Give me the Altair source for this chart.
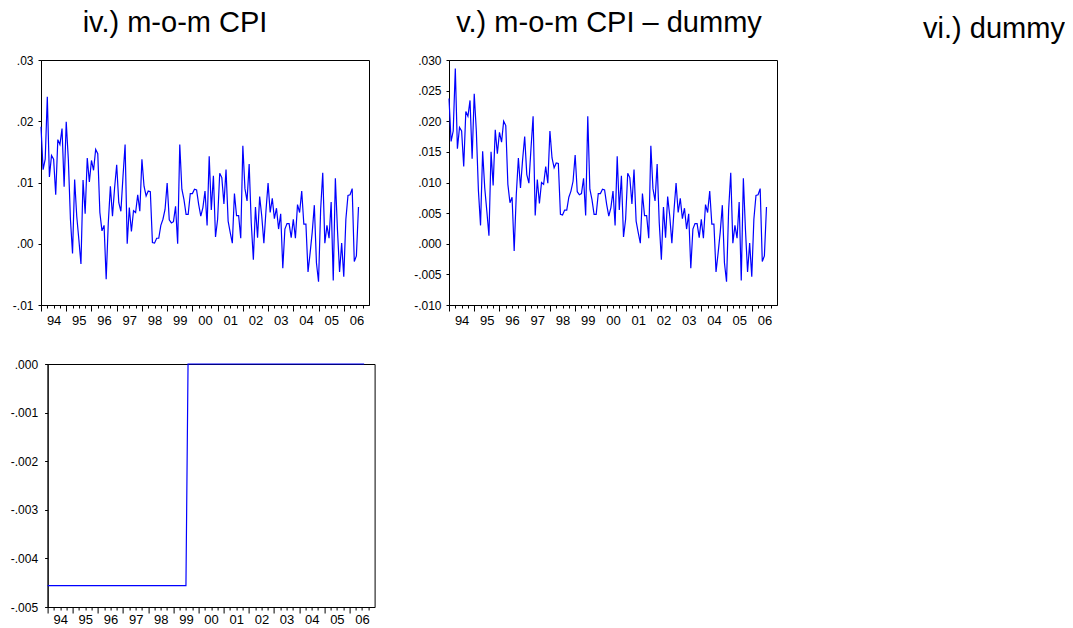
import altair as alt
import pandas as pd

# Monthly observations, 1994M01 .. 2006M08
START_YEAR = 1994

# iv.) month-on-month CPI inflation
cpi_mom = [
    0.0191, 0.0121, 0.0138, 0.0240, 0.0109, 0.0144, 0.0138, 0.0080, 0.0170, 0.0162, 0.0188, 0.0093,
    0.0199, 0.0138, 0.0040, -0.0016, 0.0105, 0.0045, 0.0007, -0.0033, 0.0104, 0.0049, 0.0140, 0.0101,
    0.0136, 0.0120, 0.0154, 0.0147, 0.0051, 0.0021, 0.0030, -0.0058, 0.0034, 0.0094, 0.0045, 0.0091,
    0.0129, 0.0067, 0.0053, 0.0110, 0.0162, 0.0000, 0.0059, 0.0020, 0.0054, 0.0051, 0.0080, 0.0053,
    0.0138, 0.0094, 0.0078, 0.0086, 0.0085, 0.0002, 0.0001, 0.0009, 0.0009, 0.0030, 0.0040, 0.0056,
    0.0099, 0.0039, 0.0034, 0.0036, 0.0061, 0.0000, 0.0162, 0.0089, 0.0072, 0.0048, 0.0048, 0.0082,
    0.0082, 0.0089, 0.0088, 0.0064, 0.0045, 0.0059, 0.0086, 0.0030, 0.0143, 0.0055, 0.0111, 0.0011,
    0.0040, 0.0115, 0.0108, 0.0065, 0.0121, 0.0037, 0.0018, 0.0001, 0.0082, 0.0046, 0.0046, 0.0009,
    0.0160, 0.0090, 0.0070, 0.0130, 0.0034, -0.0026, 0.0060, 0.0010, 0.0077, 0.0045, 0.0001, 0.0054,
    0.0099, 0.0051, 0.0074, 0.0041, 0.0058, 0.0024, 0.0049, -0.0040, 0.0024, 0.0033, 0.0033, 0.0010,
    0.0040, 0.0009, 0.0064, 0.0051, 0.0086, 0.0032, 0.0032, -0.0046, -0.0015, 0.0019, 0.0063, -0.0031,
    -0.0062, 0.0056, 0.0116, 0.0001, 0.0030, 0.0009, 0.0068, -0.0060, 0.0107, 0.0023, -0.0046, 0.0001,
    -0.0054, 0.0040, 0.0079, 0.0080, 0.0090, -0.0029, -0.0020, 0.0060,
]

# v.) month-on-month CPI net of the dummy
cpi_mom_net = [
    0.0237, 0.0167, 0.0184, 0.0286, 0.0155, 0.0190, 0.0184, 0.0126, 0.0216, 0.0208, 0.0234, 0.0139,
    0.0245, 0.0184, 0.0086, 0.0030, 0.0151, 0.0091, 0.0053, 0.0013, 0.0150, 0.0095, 0.0186, 0.0147,
    0.0182, 0.0166, 0.0200, 0.0193, 0.0097, 0.0067, 0.0076, -0.0012, 0.0080, 0.0140, 0.0091, 0.0137,
    0.0175, 0.0113, 0.0099, 0.0156, 0.0208, 0.0046, 0.0105, 0.0066, 0.0100, 0.0097, 0.0126, 0.0099,
    0.0184, 0.0140, 0.0124, 0.0132, 0.0131, 0.0048, 0.0047, 0.0055, 0.0055, 0.0076, 0.0086, 0.0102,
    0.0145, 0.0085, 0.0080, 0.0082, 0.0107, 0.0046, 0.0208, 0.0089, 0.0072, 0.0048, 0.0048, 0.0082,
    0.0082, 0.0089, 0.0088, 0.0064, 0.0045, 0.0059, 0.0086, 0.0030, 0.0143, 0.0055, 0.0111, 0.0011,
    0.0040, 0.0115, 0.0108, 0.0065, 0.0121, 0.0037, 0.0018, 0.0001, 0.0082, 0.0046, 0.0046, 0.0009,
    0.0160, 0.0090, 0.0070, 0.0130, 0.0034, -0.0026, 0.0060, 0.0010, 0.0077, 0.0045, 0.0001, 0.0054,
    0.0099, 0.0051, 0.0074, 0.0041, 0.0058, 0.0024, 0.0049, -0.0040, 0.0024, 0.0033, 0.0033, 0.0010,
    0.0040, 0.0009, 0.0064, 0.0051, 0.0086, 0.0032, 0.0032, -0.0046, -0.0015, 0.0019, 0.0063, -0.0031,
    -0.0062, 0.0056, 0.0116, 0.0001, 0.0030, 0.0009, 0.0068, -0.0060, 0.0107, 0.0023, -0.0046, 0.0001,
    -0.0054, 0.0040, 0.0079, 0.0080, 0.0090, -0.0029, -0.0020, 0.0060,
]

# vi.) level-shift dummy: constant until 1999M07, zero afterwards
dummy = [-0.00456] * 67 + [0.0] * 85

titles = ["iv.) m-o-m CPI", "v.) m-o-m CPI \u2013 dummy", "vi.) dummy"]

LINE_BLUE = "#0000FF"
PANEL_W, PANEL_H = 328, 245
FONT = "Liberation Sans"

x_ticks = [START_YEAR + q / 4 for q in range(13 * 4)]


def frame(values):
    t = [START_YEAR + i / 12 for i in range(len(values))]
    return pd.DataFrame({"t": t, "v": values})


def panel(values, lo, hi, y_ticks, fmt, width=PANEL_W, height=PANEL_H,
          title=None, y_pad=5, x_pad=3):
    x_axis = alt.Axis(
        values=x_ticks,
        grid=False,
        title=None,
        labelExpr="datum.value % 1 == 0 ? format(datum.value % 100, '02d') : ''",
        labelOffset=width / 13 / 2,
        labelAlign="center",
        labelFlush=False,
        labelOverlap=False,
        labelBound=False,
        labelFontSize=13,
        labelPadding=x_pad,
        tickSize={"condition": {"test": "datum.value % 1 == 0", "value": 6}, "value": 3},
    )
    # EViews-style numbers: ".01", "-.005" (plain hyphen, no leading zero)
    y_axis = alt.Axis(
        values=y_ticks,
        grid=False,
        title=None,
        labelExpr=f"replace(replace(format(datum.value, '{fmt}'), '\u2212', '-'), '0.', '.')",
        labelFontSize=12,
        labelPadding=y_pad,
        tickSize=3,
        labelFlush=False,
        labelOverlap=False,
    )
    ch = (
        alt.Chart(frame(values))
        .mark_line(color=LINE_BLUE, strokeWidth=1.2)
        .encode(
            x=alt.X("t:Q", scale=alt.Scale(domain=[START_YEAR, START_YEAR + 13], nice=False, zero=False), axis=x_axis),
            y=alt.Y("v:Q", scale=alt.Scale(domain=[lo, hi], nice=False, zero=False), axis=y_axis),
        )
        .properties(width=width, height=height)
    )
    if title:
        ch = ch.properties(title=title)
    return ch


def heading(text, dx):
    return alt.TitleParams(
        text=text, font=FONT, fontSize=29, fontWeight="normal", color="black",
        anchor="middle", dx=dx, offset=16,
    )


def blank(width, height, title=None):
    ch = (
        alt.Chart(pd.DataFrame({"a": [0]}))
        .mark_point(opacity=0)
        .encode(x=alt.X("a:Q", axis=None), y=alt.Y("a:Q", axis=None))
        .properties(width=width, height=height, view=alt.ViewBackground(strokeOpacity=0))
    )
    if title:
        ch = ch.properties(title=title)
    return ch


p_iv = panel(cpi_mom, -0.01, 0.03, [-0.01, 0.0, 0.01, 0.02, 0.03], ".2f",
             title=heading(titles[0], -30))
p_v = panel(cpi_mom_net, -0.010, 0.030,
            [-0.010, -0.005, 0.0, 0.005, 0.010, 0.015, 0.020, 0.025, 0.030], ".3f",
            title=heading(titles[1], -4))
p_vi_head = blank(200, PANEL_H, title=heading(titles[2], 73))
p_dummy = panel(dummy, -0.005, 0.0,
                [-0.005, -0.004, -0.003, -0.002, -0.001, 0.0], ".3f",
                width=327, height=243, y_pad=7, x_pad=0)

top_row = alt.hconcat(p_iv, p_v, p_vi_head, spacing=37)
# the lower panel sits a few pixels further right than the upper-left one
bottom_row = alt.hconcat(blank(1, 243), p_dummy, spacing=-35.4)

chart = (
    alt.vconcat(top_row, bottom_row, spacing=29)
    .properties(padding={"left": 9, "top": 8, "right": 0, "bottom": 0}, background="white")
    .configure_view(stroke="black", strokeWidth=1)
    .configure_axis(
        domainColor="black", tickColor="black", labelColor="black",
        labelFont=FONT, domainWidth=1, tickWidth=1,
    )
)

chart.save("out.html", embed_options={"renderer": "svg", "actions": False})
